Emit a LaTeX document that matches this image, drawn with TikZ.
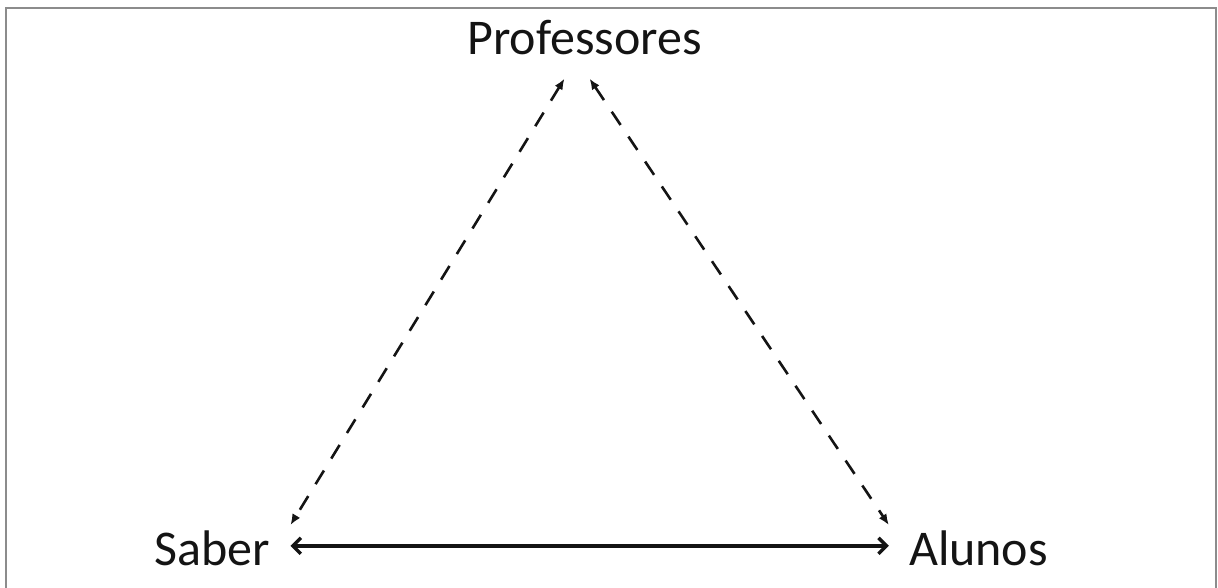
\documentclass[tikz,border=0pt]{standalone}
\usepackage{fontspec}
\setmainfont{Carlito}
\usetikzlibrary{arrows.meta}
\definecolor{trFrame}{HTML}{8C8C8C}
\definecolor{trInk}{HTML}{141414}
\begin{document}
\begin{tikzpicture}[x=1pt,y=1pt,
  vertex/.style={font=\fontsize{50}{60}\selectfont,text=trInk,anchor=base,inner xsep=20pt,inner ysep=6pt},
  dashlink/.style={{Latex[length=11pt,width=9pt]}-{Latex[length=11pt,width=9pt]},draw=trInk,line width=2.6pt,dash pattern=on 16pt off 14pt},
  solidlink/.style={{Straight Barb[length=8pt,width=16pt]}-{Straight Barb[length=8pt,width=16pt]},draw=trInk,line width=3.4pt}]
\useasboundingbox (0,0) rectangle (1218,588);
\draw[trFrame,line width=1.8pt] (6,-10) -- (6,580) -- (1216,580) -- (1216,-10);
\node[vertex] (prof) at (584.5,533) {Professores};
\node[vertex] (saber) at (212.5,22) {Saber};
\node[vertex] (alunos) at (978.5,22) {Alunos};
\draw[dashlink] ([shift={(-20pt,-17pt)}]prof.south) -- (saber.north east);
\draw[dashlink] ([shift={(5pt,-17pt)}]prof.south) -- (alunos.north west);
\draw[solidlink] ([yshift=3pt]saber.east) -- ([yshift=3pt]alunos.west);
\end{tikzpicture}
\end{document}
